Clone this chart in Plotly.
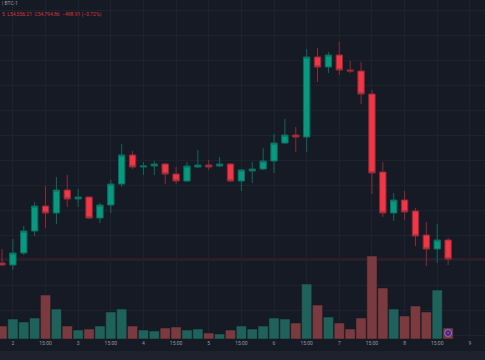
import plotly.graph_objects as go

# 4h BTC candles (index 0..41)
opens = [54675, 54615, 54975, 55635, 56385, 56175, 56865, 56595, 56655, 56025,
         56415, 57045, 57915, 57555, 57585, 57645, 57345, 57135, 57555, 57615,
         57585, 57645, 57135, 57435, 57495, 57735, 58275, 58515, 58455, 60855,
         60555, 60915, 60465, 60435, 59745, 57405, 56175, 56565, 56235, 55515,
         55095, 55365]
highs = [55095, 55395, 55785, 56505, 56985, 57255, 57315, 56895, 56655, 56475,
         57165, 58245, 58035, 57705, 57735, 57675, 57555, 57705, 58065, 57765,
         57855, 57675, 57495, 57705, 58125, 58545, 58995, 58755, 61095, 61125,
         61005, 61305, 60735, 60705, 59865, 57705, 56775, 56835, 56325, 55905,
         55845, 55425]
lows = [54585, 54465, 54915, 55485, 55725, 55845, 56355, 56355, 55995, 55875,
        56175, 56955, 57495, 57315, 57315, 57045, 57045, 57105, 57525, 57465,
        57555, 57105, 56835, 57075, 57465, 57375, 58245, 58005, 58005, 60105,
        60375, 60315, 60375, 59445, 56745, 56055, 55935, 55965, 55185, 54585,
        54675, 54615]
closes = [54615, 54975, 55635, 56385, 56175, 56865, 56595, 56655, 56025, 56415,
          57045, 57915, 57555, 57585, 57645, 57345, 57135, 57585, 57615, 57555,
          57645, 57135, 57465, 57495, 57735, 58275, 58515, 58455, 60855, 60555,
          60915, 60465, 60435, 59745, 57375, 56175, 56565, 56205, 55485, 55095,
          55365, 54795]
volumes = [650, 1000, 850, 1050, 2200, 1500, 650, 450, 500, 650,
           1350, 1500, 650, 450, 400, 550, 600, 450, 500, 300,
           250, 450, 650, 500, 650, 1050, 1000, 800, 2750, 1700,
           1100, 800, 500, 1050, 4150, 2550, 1500, 1150, 1650, 1350,
           2450, 550]
tick_pos = [1, 4, 7, 10, 13, 16, 19, 22, 25, 28, 31, 34, 37, 40, 43]
tick_text = ["2", "15:00", "3", "15:00", "4", "15:00", "5", "15:00",
             "6", "15:00", "7", "15:00", "8", "15:00", "9"]

UP = "#089981"
DN = "#f23645"
BG = "#161a25"
x = list(range(len(opens)))

vol_colors = ["#1e625b" if c >= o else "#7b3a3f" for o, c in zip(opens, closes)]

fig = go.Figure()
fig.add_trace(go.Bar(
    x=x, y=volumes, marker=dict(color=vol_colors, line=dict(color="#14181f", width=0.5)),
    yaxis="y", hoverinfo="skip", showlegend=False))
fig.add_trace(go.Candlestick(
    x=x, open=opens, high=highs, low=lows, close=closes, yaxis="y2",
    increasing=dict(fillcolor=UP, line=dict(color="#0b6b5c", width=1)),
    decreasing=dict(fillcolor=DN, line=dict(color="#8e2a36", width=1)),
    whiskerwidth=0, showlegend=False))
fig.add_trace(go.Scatter(
    x=[x[-1]], y=[300], yaxis="y", mode="markers", showlegend=False,
    marker=dict(symbol="circle-dot", size=7, color="#4b2a78",
                line=dict(color="#9a6ad8", width=1))))

fig.add_shape(type="line", xref="paper", x0=0, x1=1, yref="y2",
              y0=closes[-1], y1=closes[-1], layer="below",
              line=dict(color="rgba(242,54,69,0.25)", width=1))
fig.add_shape(type="rect", xref="paper", yref="paper", x0=0, x1=1,
              y0=-0.062, y1=-0.0354, fillcolor="#1e222d", line=dict(width=0), layer="below")

fig.add_annotation(xref="paper", yref="paper", x=0.0, y=1.0 - 3/339, xanchor="left",
                   yanchor="middle", showarrow=False, text="| BTC-1",
                   font=dict(family="Roboto", size=5, color="#9598a1"))
fig.add_annotation(xref="paper", yref="paper", x=0.0, y=1.0 - 14/339, xanchor="left",
                   yanchor="middle", showarrow=False,
                   text="5  L54,556.21  C54,794.86  −498.91 (−0.72%)",
                   font=dict(family="Roboto", size=5, color="#d33542"))

fig.update_layout(
    width=485, height=360, margin=dict(l=0, r=0, t=0, b=21),
    paper_bgcolor=BG, plot_bgcolor=BG, bargap=0.06, boxgap=0.16,
    xaxis=dict(range=[-0.184, 44.39], tickvals=tick_pos, ticktext=tick_text,
               showgrid=True, gridcolor="#1e2230", gridwidth=1, zeroline=False,
               tickfont=dict(family="Roboto", size=5, color="#9598a1"),
               ticks="", rangeslider=dict(visible=False), showline=False),
    yaxis=dict(range=[0, 16950], showgrid=False, showticklabels=False, zeroline=False),
    yaxis2=dict(range=[52395, 62565], overlaying="y", showticklabels=False,
                showgrid=True, gridcolor="#1e2230", dtick=750, zeroline=False),
    hovermode=False,
)

fig.write_html("out.html", config={"displayModeBar": False},
               post_script="document.body.style.margin='0';document.body.style.background='#161a25';")
